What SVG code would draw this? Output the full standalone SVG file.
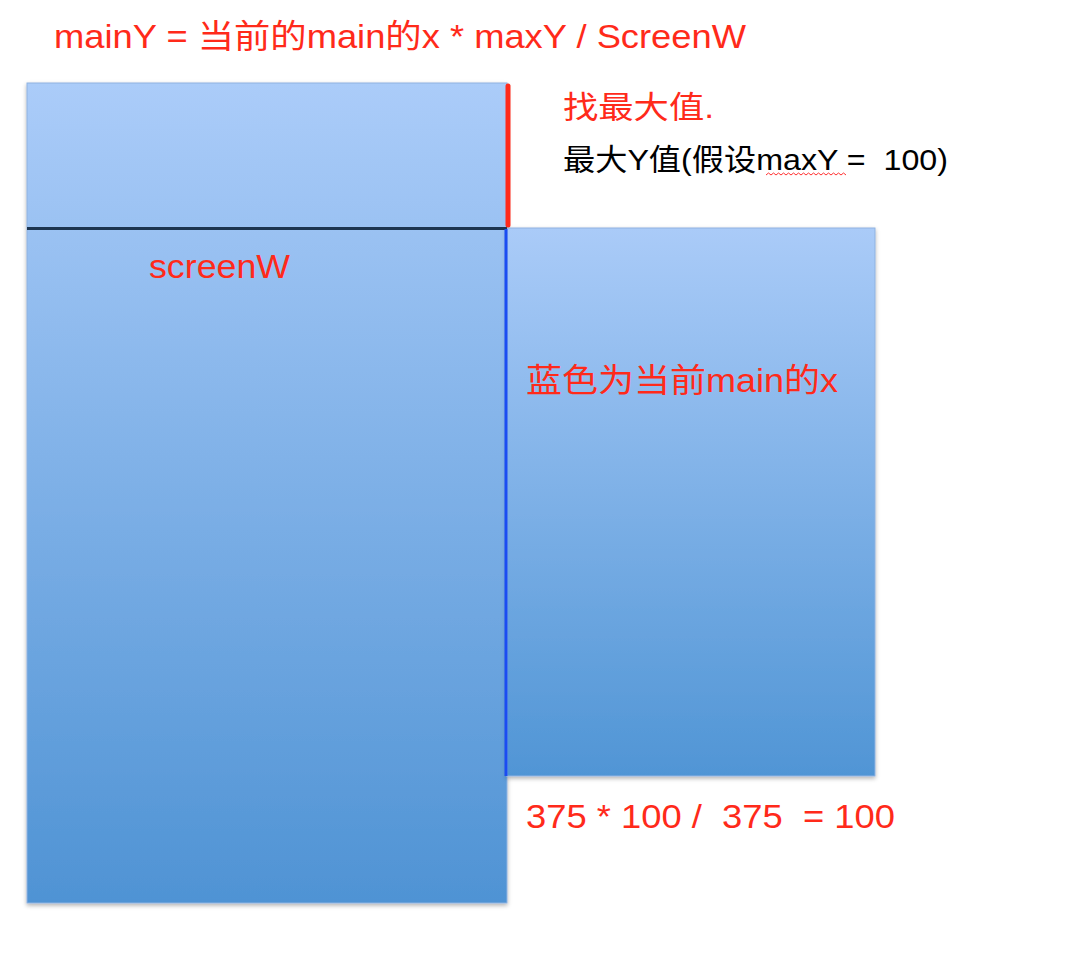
<svg xmlns="http://www.w3.org/2000/svg" width="1088" height="976" viewBox="0 0 1088 976">
<defs>
<linearGradient id="gL" x1="0" y1="0" x2="0" y2="1">
<stop offset="0" stop-color="#abccf9"/>
<stop offset="1" stop-color="#4f93d4"/>
</linearGradient>
<linearGradient id="gR" x1="0" y1="0" x2="0" y2="1">
<stop offset="0" stop-color="#aacbf8"/>
<stop offset="1" stop-color="#5095d5"/>
</linearGradient>
<filter id="sh" x="-5%" y="-5%" width="110%" height="110%">
<feDropShadow dx="0" dy="2" stdDeviation="2" flood-color="#000" flood-opacity="0.3"/>
</filter>
<style>
text{white-space:pre}
.red{fill:#ff2a1a;font-family:"Liberation Sans","Noto Sans CJK SC",sans-serif}
.blk{fill:#000;font-family:"Liberation Sans","Noto Sans CJK SC",sans-serif}
.box{stroke:#8fb2e0;stroke-width:1}
</style>
</defs>
<rect width="1088" height="976" fill="#fff"/>
<g id="left-rect">
<rect class="box" x="27" y="83" width="480" height="820" fill="url(#gL)" filter="url(#sh)"/>
</g>
<g id="right-rect">
<rect class="box" x="507" y="228" width="368" height="548" fill="url(#gR)" filter="url(#sh)"/>
</g>
<g id="connectors">
<line x1="27" y1="228.5" x2="507" y2="228.5" stroke="#1d3550" stroke-width="3"/>
<line x1="508" y1="86" x2="508" y2="225" stroke="#ff2a1a" stroke-width="5" stroke-linecap="round"/>
<line x1="506" y1="229" x2="506" y2="776" stroke="#1a4cf2" stroke-width="3"/>
</g>
<g id="labels">
<text class="red" x="54" y="48" font-size="33" textLength="692" lengthAdjust="spacingAndGlyphs" xml:space="preserve">mainY = 当前的main的x * maxY / ScreenW</text>
<text class="red" x="563" y="118" font-size="31" textLength="151" lengthAdjust="spacingAndGlyphs">找最大值.</text>
<text class="blk" x="563" y="170" font-size="30" textLength="385" lengthAdjust="spacingAndGlyphs" xml:space="preserve">最大Y值(假设maxY =  100)</text>
<path d="M766 175 l2.5 -2 l2.5 2 l2.5 -2 l2.5 2 l2.5 -2 l2.5 2 l2.5 -2 l2.5 2 l2.5 -2 l2.5 2 l2.5 -2 l2.5 2 l2.5 -2 l2.5 2 l2.5 -2 l2.5 2 l2.5 -2 l2.5 2 l2.5 -2 l2.5 2 l2.5 -2 l2.5 2 l2.5 -2 l2.5 2 l2.5 -2 l2.5 2 l2.5 -2 l2.5 2 l2.5 -2 l2.5 2 l2.5 -2 l2.5 2" fill="none" stroke="#ff3030" stroke-width="1"/>
<text class="red" x="149" y="278" font-size="33" textLength="141" lengthAdjust="spacingAndGlyphs">screenW</text>
<text class="red" x="526" y="392" font-size="33" textLength="312" lengthAdjust="spacingAndGlyphs">蓝色为当前main的x</text>
<text class="red" x="526" y="828" font-size="34" textLength="369" lengthAdjust="spacingAndGlyphs" xml:space="preserve">375 * 100 /  375  = 100</text>
</g>
</svg>
